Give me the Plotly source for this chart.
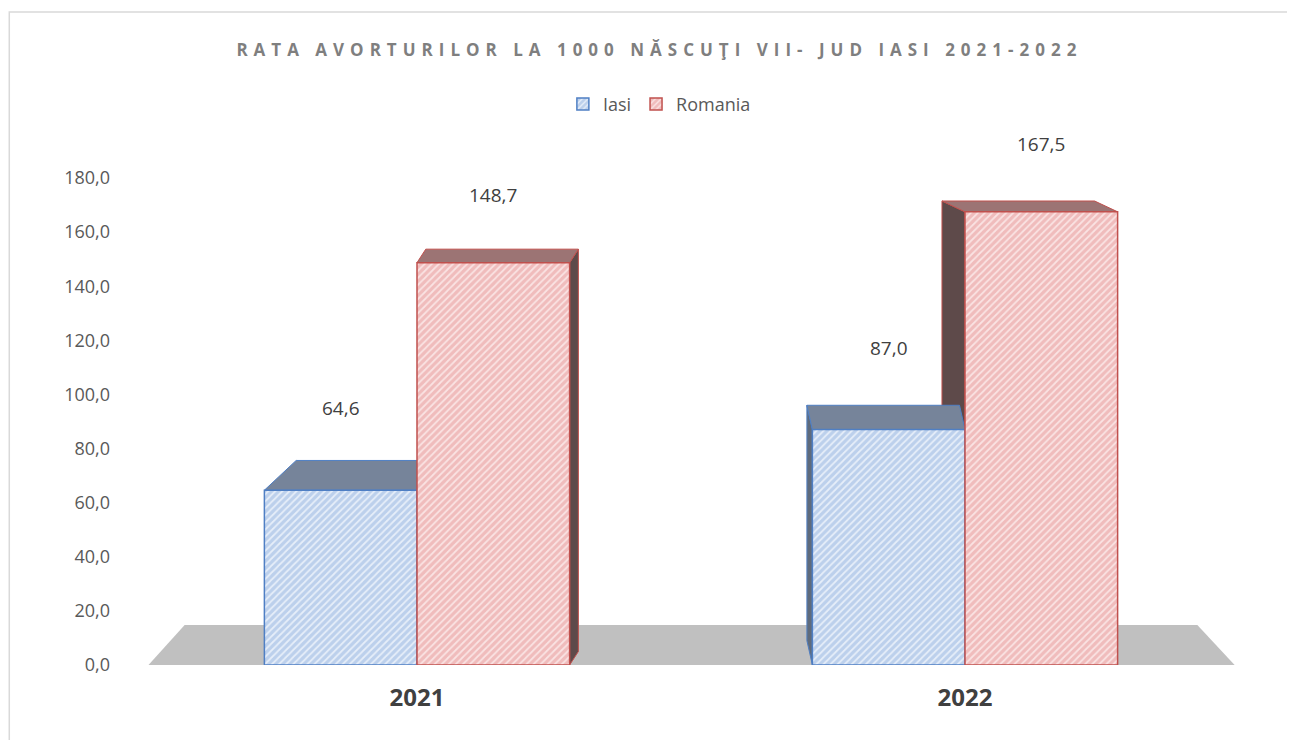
import plotly.graph_objects as go

# ---- data ----
years = ["2021", "2022"]
iasi = [64.6, 87.0]
romania = [148.7, 167.5]
series_names = ["Iasi", "Romania"]
y_ticks = [0, 20, 40, 60, 80, 100, 120, 140, 160, 180]
title_text = "RATA AVORTURILOR LA 1000 NĂSCUŢI VII- JUD IASI 2021-2022"

# ---- style ----
BARGAP = 0.443
HALF = (1 - BARGAP) / 2  # width of one bar in category units
STYLE = {
    "Iasi": dict(bg="#bcd0ec", fg="#e6eef9", line="#4f7fc4",
                 top="#76849a", side="#5f6b7c", label_shift=82),
    "Romania": dict(bg="#f0bcbc", fg="#fae3e3", line="#c0504d",
                    top="#9c7474", side="#5e4a4a", label_shift=68),
}
# 3D depth offsets (x in category units, y in value units) per series & year index
DEPTH = {
    ("Iasi", 0): (0.058, 11), ("Romania", 0): (0.016, 5),
    ("Iasi", 1): (-0.01, 9), ("Romania", 1): (-0.042, 4),
}
xs = list(range(len(years)))

fig = go.Figure()
shapes = []

# floor
shapes.append(dict(type="path", xref="paper", yref="y", ysizemode="pixel", yanchor=0,
                   path="M 0.005 0 L 0.996 0 L 0.962 40 L 0.038 40 Z",
                   fillcolor="#c0c0c0", line=dict(width=0), layer="below"))

for name, vals in [("Romania", romania), ("Iasi", iasi)]:
    st = STYLE[name]
    for i, v in enumerate(vals):
        dx, dy = DEPTH[(name, i)]
        left = i - HALF if name == "Iasi" else i
        right = left + HALF
        # side face
        edge = right if dx > 0 else left
        shapes.append(dict(type="path", xref="x", yref="y",
                           path=f"M {edge} 0 L {edge} {v} L {edge+dx} {v+dy} L {edge+dx} {dy} Z",
                           fillcolor=st["side"], line=dict(color=st["line"], width=1),
                           layer="below"))
        # top face
        shapes.append(dict(type="path", xref="x", yref="y",
                           path=f"M {left} {v} L {right} {v} L {right+dx} {v+dy} L {left+dx} {v+dy} Z",
                           fillcolor=st["top"], line=dict(color=st["line"], width=1),
                           layer="below"))

for name, vals in [("Iasi", iasi), ("Romania", romania)]:
    st = STYLE[name]
    fig.add_trace(go.Bar(
        name=name, x=xs, y=vals,
        marker=dict(color=st["bg"],
                    line=dict(color=st["line"], width=1.5),
                    pattern=dict(shape="/", fgcolor=st["fg"], bgcolor=st["bg"],
                                 size=5, solidity=0.35, fillmode="replace")),
    ))

annotations = []
for name, vals in [("Iasi", iasi), ("Romania", romania)]:
    st = STYLE[name]
    for i, v in enumerate(vals):
        cx = i - HALF / 2 if name == "Iasi" else i + HALF / 2
        annotations.append(dict(x=cx, y=v, xref="x", yref="y",
                                text=f"{v:.1f}".replace(".", ","),
                                showarrow=False, yshift=st["label_shift"],
                                font=dict(family="Open Sans", size=19, color="#404040")))

# outer border
shapes.append(dict(type="rect", xref="paper", yref="paper",
                   x0=-0.122, x1=1.0465, y0=-0.16, y1=1.341,
                   line=dict(color="#d9d9d9", width=1.5), fillcolor="rgba(0,0,0,0)", layer="below"))

fig.update_layout(
    width=1295, height=740,
    margin=dict(l=135, r=64, t=170, b=83),
    paper_bgcolor="white", plot_bgcolor="rgba(0,0,0,0)",
    barmode="group", bargap=BARGAP, bargroupgap=0,
    separators=", ",
    title=dict(text=f'<span style="letter-spacing:6px">{title_text}</span>',
               x=0.503, xref="container", y=0.943, yref="container",
               xanchor="center", yanchor="middle",
               font=dict(family="Open Sans", size=17, color="#7f7f7f", weight="bold")),
    legend=dict(orientation="h", x=0.503, xref="container", xanchor="center",
                y=0.870, yref="container", yanchor="middle",
                font=dict(family="Open Sans", size=18, color="#595959"),
                itemwidth=30, traceorder="normal"),
    xaxis=dict(range=[-0.5, 1.5], tickvals=xs, ticktext=years, showgrid=False,
               zeroline=False, showline=False, ticks="", ticklabelstandoff=16,
               tickfont=dict(family="Open Sans", size=24, color="#404040", weight="bold")),
    yaxis=dict(range=[0, 180], tickvals=y_ticks, tickformat=".1f", showgrid=False,
               zeroline=False, showline=False, ticks="", ticklabelstandoff=32,
               tickfont=dict(family="Open Sans", size=18, color="#595959")),
    shapes=shapes,
    annotations=annotations,
)

fig.write_html("out.html")
